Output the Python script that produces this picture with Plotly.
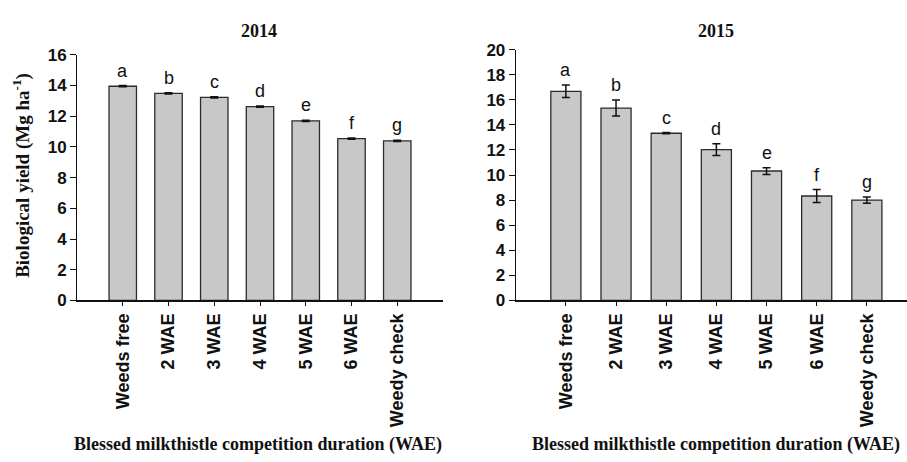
import plotly.graph_objects as go

# Treatments (weeks after emergence) and biological yield, Mg ha-1
categories = ["Weeds free", "2 WAE", "3 WAE", "4 WAE", "5 WAE", "6 WAE", "Weedy check"]
yield_2014 = [13.95, 13.48, 13.23, 12.62, 11.69, 10.54, 10.39]
err_2014 = [0.04, 0.04, 0.04, 0.04, 0.04, 0.04, 0.04]
yield_2015 = [16.67, 15.34, 13.33, 12.03, 10.32, 8.33, 8.00]
err_2015 = [0.50, 0.64, 0.05, 0.47, 0.27, 0.51, 0.25]
letters = ["a", "b", "c", "d", "e", "f", "g"]

W, H = 907, 462
SANS = "Liberation Sans, Arial, sans-serif"
SERIF = "Liberation Serif, Times New Roman, serif"
BAR_FILL = "#c8c8c8"
BAR_LINE = "#2b2b2b"


def px_x(p):
    return p / W


def px_y(p):
    return (H - p) / H


fig = go.Figure()

panels = [
    ("x", "y", yield_2014, err_2014),
    ("x2", "y2", yield_2015, err_2015),
]

for xa, ya, vals, errs in panels:
    fig.add_trace(go.Bar(
        x=list(range(len(categories))),
        y=vals,
        width=0.6,
        marker=dict(color=BAR_FILL, line=dict(color=BAR_LINE, width=1.3)),
        error_y=dict(type="data", array=errs, visible=True,
                     color="#111111", thickness=1.5, width=4),
        xaxis=xa, yaxis=ya,
        showlegend=False,
        hoverinfo="skip",
    ))
    for i, (v, e, lab) in enumerate(zip(vals, errs, letters)):
        fig.add_annotation(
            x=i, y=v + e, xref=xa, yref=ya, text=lab, showarrow=False,
            yanchor="bottom", yshift=3,
            font=dict(family=SANS, size=18, color="#111111"),
        )

xaxis_common = dict(
    tickmode="array",
    tickvals=list(range(len(categories))),
    ticktext=categories,
    tickangle=-90,
    ticks="outside", ticklen=4, tickwidth=1, tickcolor="#111111",
    showline=True, linecolor="#111111", linewidth=1.6,
    showgrid=False, zeroline=False,
    tickfont=dict(family=SANS, size=18, color="#111111", weight="bold"),
)
yaxis_common = dict(
    dtick=2,
    ticks="outside", ticklen=6, tickwidth=1, tickcolor="#111111",
    showline=True, linecolor="#111111", linewidth=1,
    showgrid=False, zeroline=False,
    tickfont=dict(family=SANS, size=17, color="#111111", weight="bold"),
)

fig.update_layout(
    width=W, height=H,
    margin=dict(l=0, r=0, t=0, b=0),
    paper_bgcolor="white", plot_bgcolor="white",
    bargap=0.4,
    xaxis=dict(domain=[px_x(77), px_x(443)], range=[-1, 7], anchor="y", **xaxis_common),
    yaxis=dict(domain=[px_y(304), px_y(47.7)], range=[0, 16], anchor="x", **yaxis_common),
    xaxis2=dict(domain=[px_x(515.7), 1.0], range=[-1, 6.8], anchor="y2", **xaxis_common),
    yaxis2=dict(domain=[px_y(304), px_y(42.3)], range=[0, 20], anchor="x2", **yaxis_common),
)

# Panel titles
for label, cx in (("2014", 259), ("2015", 716)):
    fig.add_annotation(
        x=px_x(cx), y=px_y(22.5), xref="paper", yref="paper",
        text=f"<b>{label}</b>", showarrow=False,
        xanchor="center", yanchor="middle",
        font=dict(family=SERIF, size=18, color="#111111"),
    )

# Shared x-axis titles under each panel
for cx in (258, 716):
    fig.add_annotation(
        x=px_x(cx), y=px_y(454), xref="paper", yref="paper",
        text="<b>Blessed milkthistle competition duration (WAE)</b>",
        showarrow=False, xanchor="center", yanchor="middle",
        font=dict(family=SERIF, size=18, color="#111111"),
    )

# Y-axis title
fig.add_annotation(
    x=px_x(22), y=px_y(174), xref="paper", yref="paper",
    text="<b>Biological yield (Mg ha<sup>-1</sup>)</b>",
    textangle=-90, showarrow=False,
    xanchor="center", yanchor="middle",
    font=dict(family=SERIF, size=19, color="#111111"),
)

fig.write_html("out.html")
